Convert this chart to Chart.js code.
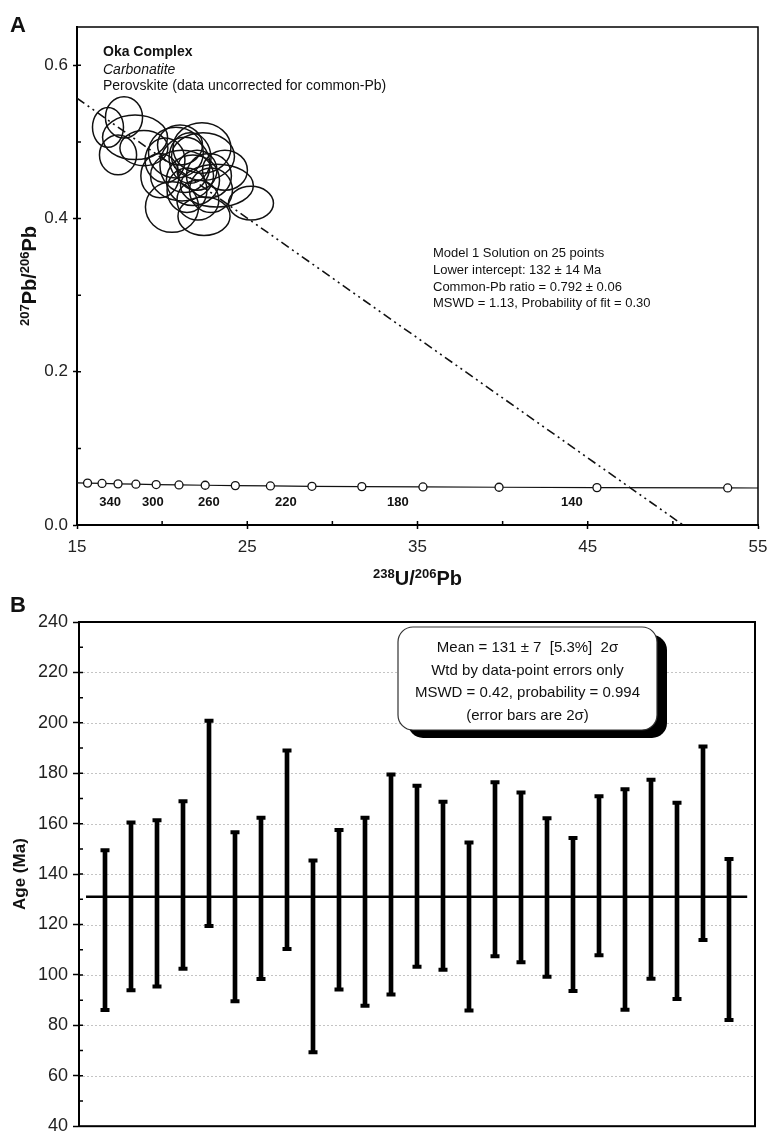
<!DOCTYPE html>
<html>
<head>
<meta charset="utf-8">
<script src="https://cdn.jsdelivr.net/npm/chart.js@4.4.0/dist/chart.umd.min.js"></script>
<style>
  body { margin: 0; background: #fff; }
  canvas { display: block; }
</style>
</head>
<body>
<canvas id="chartA" width="767" height="595"></canvas>
<canvas id="chartB" width="767" height="547"></canvas>
<script>
// ---- Panel A: Tera-Wasserburg plot ----
let xTicksA = [15, 25, 35, 45, 55];
let yTicksA = [0.0, 0.2, 0.4, 0.6];

// concordia curve (238U/206Pb, 207Pb/206Pb), markers every 20 Ma, 400 -> 120 Ma
let concordX = [15, 15.62, 16.47, 17.41, 18.46, 19.65, 20.99, 22.53, 24.30, 26.36, 28.80, 31.73, 35.32, 39.79, 45.54, 53.22, 55];
let concordY = [0.0551, 0.0547, 0.0542, 0.0537, 0.0533, 0.0528, 0.0523, 0.0519, 0.0514, 0.0510, 0.0505, 0.0501, 0.0497, 0.0493, 0.0488, 0.0484, 0.0483];
let concordMarker = [0, 4, 4, 4, 4, 4, 4, 4, 4, 4, 4, 4, 4, 4, 4, 4, 0];

// age labels along the concordia
let ageLabels = ['340', '300', '260', '220', '180', '140'];
let ageLabelX = [16.94, 19.46, 22.75, 27.27, 33.85, 44.07];
let ageLabelY = [0.029, 0.029, 0.029, 0.029, 0.029, 0.029];

// regression (discordia) line
let discX = [15, 50.6];
let discY = [0.557, 0.0];

// error ellipses: centre, half-widths
let ellX  = [16.82, 17.76, 18.41, 17.41, 18.93, 20.81, 22.34, 22.40, 21.17, 21.34, 21.81, 23.22, 20.58, 22.46, 25.22, 22.87, 21.64, 20.17, 22.05, 21.05, 22.75, 21.46, 19.87, 23.69, 22.10];
let ellY  = [0.519, 0.532, 0.506, 0.483, 0.492, 0.486, 0.492, 0.481, 0.456, 0.470, 0.450, 0.443, 0.415, 0.403, 0.420, 0.437, 0.479, 0.476, 0.463, 0.496, 0.456, 0.437, 0.456, 0.463, 0.424];
let ellRx = [0.91, 1.09, 1.91, 1.09, 1.41, 1.61, 1.70, 1.85, 1.85, 1.47, 1.56, 2.14, 1.56, 1.53, 1.32, 1.26, 1.23, 1.17, 1.17, 1.32, 1.32, 1.17, 1.12, 1.32, 1.23];
let ellRy = [0.026, 0.027, 0.029, 0.026, 0.023, 0.033, 0.033, 0.031, 0.033, 0.036, 0.033, 0.028, 0.033, 0.025, 0.022, 0.029, 0.033, 0.029, 0.026, 0.026, 0.029, 0.029, 0.029, 0.026, 0.026];

// ---- Panel B: weighted mean ages ----
let yTicksB = [40, 60, 80, 100, 120, 140, 160, 180, 200, 220, 240];
let ageHigh = [149.5, 160.5, 161.4, 168.9, 200.8, 156.6, 162.4, 189.0, 145.4, 157.5, 162.4, 179.5, 175.0, 168.7, 152.5, 176.4, 172.4, 162.2, 154.3, 170.9, 173.7, 177.4, 168.3, 190.6, 146.0];
let ageLow  = [86.1, 93.9, 95.4, 102.5, 119.4, 89.6, 98.4, 110.3, 69.3, 94.2, 87.8, 92.2, 103.2, 102.1, 85.9, 107.4, 105.0, 99.3, 93.6, 107.8, 86.2, 98.5, 90.5, 113.9, 82.1];
let meanAge = 131;

const FONT = "'Liberation Sans', Arial, Helvetica, sans-serif";
Chart.defaults.font.family = FONT;
Chart.defaults.color = '#222';

function richText(ctx, parts, x, y, big, small) {
  let w = 0;
  parts.forEach(p => {
    ctx.font = 'bold ' + (p[1] ? small : big) + 'px ' + FONT;
    w += ctx.measureText(p[0]).width;
  });
  let cx = x - w / 2;
  ctx.textAlign = 'left';
  ctx.textBaseline = 'alphabetic';
  parts.forEach(p => {
    ctx.font = 'bold ' + (p[1] ? small : big) + 'px ' + FONT;
    ctx.fillText(p[0], cx, p[1] ? y - big * 0.36 : y);
    cx += ctx.measureText(p[0]).width;
  });
}

const panelA = {
  id: 'panelA',
  afterDatasetsDraw(chart) {
    const {ctx, chartArea: ca, scales: {x, y}} = chart;
    ctx.save();
    ctx.beginPath();
    ctx.rect(ca.left, ca.top, ca.right - ca.left, ca.bottom - ca.top);
    ctx.clip();
    ctx.strokeStyle = '#111';
    ctx.lineWidth = 1.5;
    for (let i = 0; i < ellX.length; i++) {
      const cx = x.getPixelForValue(ellX[i]);
      const cy = y.getPixelForValue(ellY[i]);
      const rx = Math.abs(x.getPixelForValue(ellX[i] + ellRx[i]) - cx);
      const ry = Math.abs(y.getPixelForValue(ellY[i] + ellRy[i]) - cy);
      ctx.beginPath();
      ctx.ellipse(cx, cy, rx, ry, 0, 0, 2 * Math.PI);
      ctx.stroke();
    }
    ctx.restore();
  },
  afterDraw(chart) {
    const {ctx, chartArea: ca, scales: {x, y}} = chart;
    ctx.save();
    // top and right frame
    ctx.strokeStyle = '#000';
    ctx.lineWidth = 1.5;
    ctx.beginPath();
    ctx.moveTo(ca.left, ca.top);
    ctx.lineTo(ca.right, ca.top);
    ctx.lineTo(ca.right, ca.bottom);
    ctx.stroke();
    // inner tick marks
    ctx.lineWidth = 1.5;
    ctx.beginPath();
    [0.1, 0.2, 0.3, 0.4, 0.5, 0.6].forEach(v => {
      const py = y.getPixelForValue(v);
      ctx.moveTo(ca.left, py); ctx.lineTo(ca.left + 4, py);
    });
    [20, 25, 30, 35, 40, 45, 50].forEach(v => {
      const px = x.getPixelForValue(v);
      ctx.moveTo(px, ca.bottom); ctx.lineTo(px, ca.bottom - 4);
    });
    ctx.stroke();

    ctx.fillStyle = '#111';
    // panel letter
    ctx.font = 'bold 22px ' + FONT;
    ctx.textAlign = 'left';
    ctx.textBaseline = 'alphabetic';
    ctx.fillText('A', 10, 32);

    // header text
    ctx.font = 'bold 14px ' + FONT;
    ctx.fillText('Oka Complex', ca.left + 26, 56);
    ctx.font = 'italic 14px ' + FONT;
    ctx.fillText('Carbonatite', ca.left + 26, 74);
    ctx.font = '14px ' + FONT;
    ctx.fillText('Perovskite (data uncorrected for common-Pb)', ca.left + 26, 90);

    // regression results
    ctx.font = '13px ' + FONT;
    const res = ['Model 1 Solution on 25 points', 'Lower intercept: 132 \u00b1 14 Ma',
                 'Common-Pb ratio = 0.792 \u00b1 0.06', 'MSWD = 1.13, Probability of fit = 0.30'];
    res.forEach((t, i) => ctx.fillText(t, 433, 257 + i * 16.8));

    // concordia age labels
    ctx.font = 'bold 13px ' + FONT;
    ctx.textAlign = 'center';
    ctx.textBaseline = 'middle';
    ageLabels.forEach((t, i) => ctx.fillText(t, x.getPixelForValue(ageLabelX[i]), y.getPixelForValue(ageLabelY[i])));

    // axis titles
    ctx.fillStyle = '#111';
    richText(ctx, [['238', true], ['U/', false], ['206', true], ['Pb', false]], (ca.left + ca.right) / 2, 585, 20, 13);
    ctx.translate(36, (ca.top + ca.bottom) / 2);
    ctx.rotate(-Math.PI / 2);
    richText(ctx, [['207', true], ['Pb/', false], ['206', true], ['Pb', false]], 0, 0, 20, 13);
    ctx.restore();
  }
};

new Chart('chartA', {
  type: 'scatter',
  data: {
    datasets: [
      {
        data: discX.map((v, i) => ({x: v, y: discY[i]})),
        showLine: true,
        borderColor: '#111',
        borderWidth: 1.6,
        borderDash: [9, 4, 2, 4, 2, 4],
        pointRadius: 0
      },
      {
        data: concordX.map((v, i) => ({x: v, y: concordY[i]})),
        showLine: true,
        borderColor: '#111',
        borderWidth: 1.2,
        pointRadius: concordMarker,
        pointBackgroundColor: '#fff',
        pointBorderColor: '#111',
        pointBorderWidth: 1.3
      }
    ]
  },
  options: {
    responsive: false,
    animation: false,
    layout: {padding: {top: 27, right: 9, left: 0, bottom: 0}},
    plugins: {legend: {display: false}, tooltip: {enabled: false}},
    scales: {
      x: {
        type: 'linear', min: 15, max: 55,
        afterBuildTicks: s => { s.ticks = xTicksA.map(v => ({value: v})); },
        afterFit: s => { s.height = 70; s.paddingLeft = 0; s.paddingRight = 0; },
        ticks: {font: {size: 17}, padding: 8, color: '#222'},
        grid: {drawOnChartArea: false, tickLength: 4, tickColor: '#000', tickWidth: 1.5},
        border: {color: '#000', width: 2}
      },
      y: {
        type: 'linear', min: 0, max: 0.65,
        afterBuildTicks: s => { s.ticks = yTicksA.map(v => ({value: v})); },
        afterFit: s => { s.width = 77; s.paddingTop = 0; s.paddingBottom = 0; },
        ticks: {font: {size: 17}, padding: 5, color: '#222', callback: v => v.toFixed(1)},
        grid: {drawOnChartArea: false, tickLength: 4, tickColor: '#000', tickWidth: 1.5},
        border: {color: '#000', width: 2}
      }
    }
  },
  plugins: [panelA]
});

const panelB = {
  id: 'panelB',
  beforeDatasetsDraw(chart) {
    const {ctx, chartArea: ca, scales: {y}} = chart;
    ctx.save();
    ctx.strokeStyle = '#c4c4c4';
    ctx.lineWidth = 1;
    ctx.setLineDash([2, 2]);
    yTicksB.slice(1, -1).forEach(v => {
      const py = Math.round(y.getPixelForValue(v)) + 0.5;
      ctx.beginPath();
      ctx.moveTo(ca.left, py);
      ctx.lineTo(ca.right, py);
      ctx.stroke();
    });
    ctx.restore();
  },
  afterDraw(chart) {
    const {ctx, chartArea: ca, scales: {y}} = chart;
    ctx.save();
    // frame
    ctx.strokeStyle = '#000';
    ctx.lineWidth = 2;
    ctx.strokeRect(ca.left, ca.top, ca.right - ca.left, ca.bottom - ca.top);
    // inner ticks incl. minor ticks
    ctx.lineWidth = 1.5;
    ctx.beginPath();
    for (let v = 50; v < 240; v += 10) {
      const py = y.getPixelForValue(v);
      ctx.moveTo(ca.left, py); ctx.lineTo(ca.left + 4, py);
    }
    ctx.stroke();

    // panel letter
    ctx.fillStyle = '#111';
    ctx.font = 'bold 22px ' + FONT;
    ctx.textAlign = 'left';
    ctx.textBaseline = 'alphabetic';
    ctx.fillText('B', 10, 17);

    // info box with shadow
    const bx = 398, by = 32, bw = 259, bh = 103, r = 15;
    ctx.fillStyle = '#000';
    ctx.beginPath();
    ctx.roundRect(bx + 10, by + 8, bw, bh, r);
    ctx.fill();
    ctx.fillStyle = '#fff';
    ctx.strokeStyle = '#333';
    ctx.lineWidth = 1.2;
    ctx.beginPath();
    ctx.roundRect(bx, by, bw, bh, r);
    ctx.fill();
    ctx.stroke();

    ctx.fillStyle = '#111';
    ctx.font = '15px ' + FONT;
    ctx.textAlign = 'center';
    const lines = ['Mean = 131 \u00b1 7  [5.3%]  2\u03c3', 'Wtd by data-point errors only',
                   'MSWD = 0.42, probability = 0.994', '(error bars are 2\u03c3)'];
    lines.forEach((t, i) => ctx.fillText(t, bx + bw / 2, 57 + i * 22.7));

    // y title
    ctx.translate(25, (ca.top + ca.bottom) / 2);
    ctx.rotate(-Math.PI / 2);
    ctx.font = 'bold 17px ' + FONT;
    ctx.textAlign = 'center';
    ctx.fillText('Age (Ma)', 0, 0);
    ctx.restore();
  }
};

const barData = ageHigh.map((h, i) => ({x: i + 1, y: [ageLow[i], h]}));
const capData = [];
ageHigh.forEach((h, i) => {
  capData.push({x: i + 1, y: h});
  capData.push({x: i + 1, y: ageLow[i]});
});

new Chart('chartB', {
  type: 'bar',
  data: {
    datasets: [
      {
        type: 'line',
        data: [{x: 0.27, y: meanAge}, {x: 25.7, y: meanAge}],
        borderColor: '#000',
        borderWidth: 2.6,
        pointRadius: 0,
        order: 2
      },
      {
        type: 'bar',
        data: barData,
        backgroundColor: '#000',
        barThickness: 4,
        order: 1
      },
      {
        type: 'line',
        showLine: false,
        data: capData,
        pointStyle: 'line',
        pointRadius: 4.5,
        borderColor: '#000',
        pointBorderWidth: 4,
        order: 0
      }
    ]
  },
  options: {
    responsive: false,
    animation: false,
    layout: {padding: {top: 27, right: 12, left: 0, bottom: 5}},
    plugins: {legend: {display: false}, tooltip: {enabled: false}},
    scales: {
      x: {type: 'linear', min: 0, max: 26, offset: false, display: false},
      y: {
        min: 40, max: 240,
        afterBuildTicks: s => { s.ticks = yTicksB.map(v => ({value: v})); },
        afterFit: s => { s.width = 79; },
        ticks: {font: {size: 18}, padding: 5, color: '#222'},
        grid: {drawOnChartArea: false, tickLength: 6, tickColor: '#000', tickWidth: 1.5},
        border: {color: '#000', width: 2}
      }
    }
  },
  plugins: [panelB]
});
</script>
</body>
</html>
